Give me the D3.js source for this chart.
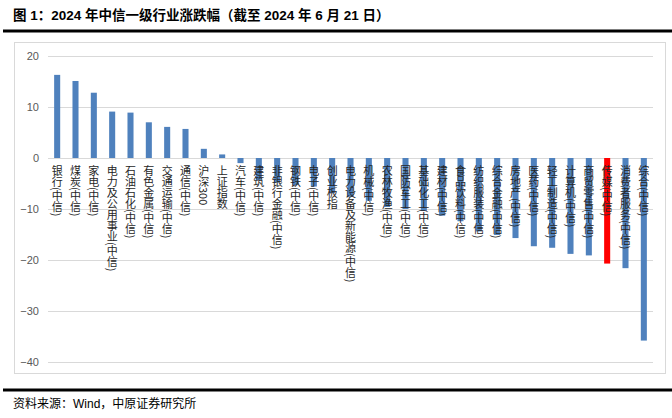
<!DOCTYPE html>
<html><head><meta charset="utf-8">
<script src="https://cdn.jsdelivr.net/npm/d3@7"></script>
<style>html,body{margin:0;padding:0;background:#fff;}</style>
</head><body>
<svg id="c" width="672" height="418"></svg>
<script>
const categories = ["银行(中信)","煤炭(中信)","家电(中信)","电力及公用事业(中信)","石油石化(中信)","有色金属(中信)","交通运输(中信)","通信(中信)","沪深300","上证指数","汽车(中信)","建筑(中信)","非银行金融(中信)","钢铁(中信)","电子(中信)","创业板指","电力设备及新能源(中信)","机械(中信)","农林牧渔(中信)","国防军工(中信)","基础化工(中信)","建材(中信)","食品饮料(中信)","纺织服装(中信)","综合金融(中信)","房地产(中信)","医药(中信)","轻工制造(中信)","计算机(中信)","商贸零售(中信)","传媒(中信)","消费者服务(中信)","综合(中信)"];
const values = [16.3,15.1,12.8,9.1,8.9,7.0,6.1,5.7,1.8,0.7,-1.0,-4.3,-4.8,-5.3,-5.6,-6.9,-7.6,-8.4,-9.6,-10.0,-10.4,-11.3,-12.4,-14.4,-15.1,-15.7,-17.3,-17.6,-18.8,-19.1,-20.7,-21.6,-35.8];
const highlight = ["传媒(中信)"];
const yTicks = [20,10,0,-10,-20,-30,-40];
const title = "图 1：2024 年中信一级行业涨跌幅（截至 2024 年 6 月 21 日）";
const source = "资料来源：Wind，中原证券研究所";

const svg = d3.select("#c");
const x = d3.scaleBand().domain(categories).range([48,653]).paddingInner(0.67).paddingOuter(0.335);
const y = d3.scaleLinear().domain([-40,20]).range([362,56]);

// title
svg.append("text").attr("x",13).attr("y",20).attr("font-family","Liberation Sans, Noto Sans CJK SC, sans-serif")
  .attr("font-size",13.5).attr("font-weight","bold").attr("fill","#000").text(title);
svg.append("line").attr("x1",3).attr("x2",672).attr("y1",31).attr("y2",31).attr("stroke","#000").attr("stroke-width",3);

// plot frame
svg.append("rect").attr("x",14.5).attr("y",42.5).attr("width",651).attr("height",331).attr("fill","none").attr("stroke","#d9d9d9").attr("stroke-width",1);

// grid
const yAxis = d3.axisLeft(y).tickValues(yTicks).tickSize(-(653-48)).tickPadding(9).tickFormat(d3.format("d"));
const g = svg.append("g").attr("transform","translate(48,0)").call(yAxis);
g.select(".domain").remove();
g.selectAll(".tick line").attr("stroke","#d9d9d9").attr("stroke-width",1);
g.selectAll(".tick text").attr("fill","#595959").attr("font-size",11).attr("font-family","Liberation Sans, sans-serif");

// bars
svg.append("g").selectAll("rect").data(categories).join("rect")
  .attr("x",d=>x(d)).attr("width",x.bandwidth())
  .attr("y",(d,i)=>y(Math.max(0,values[i])))
  .attr("height",(d,i)=>Math.abs(y(values[i])-y(0)))
  .attr("fill",d=>highlight.includes(d)?"#ff0000":"#4f81bd");

// category labels (vertical)
svg.append("g").selectAll("text").data(categories).join("text")
  .attr("x",d=>x(d)+x.bandwidth()/2).attr("y",165)
  .attr("writing-mode","vertical-rl")
  .style("writing-mode","vertical-rl")
  .style("text-orientation","mixed")
  .attr("font-family","Noto Sans CJK SC, sans-serif").attr("font-size",11)
  .attr("fill","#262626").text(d=>d);

// footer
svg.append("line").attr("x1",3).attr("x2",672).attr("y1",390).attr("y2",390).attr("stroke","#000").attr("stroke-width",3);
svg.append("text").attr("x",13).attr("y",408).attr("font-family","Liberation Sans, Noto Sans CJK SC, sans-serif")
  .attr("font-size",12).attr("fill","#000").text(source);
</script>
</body></html>
